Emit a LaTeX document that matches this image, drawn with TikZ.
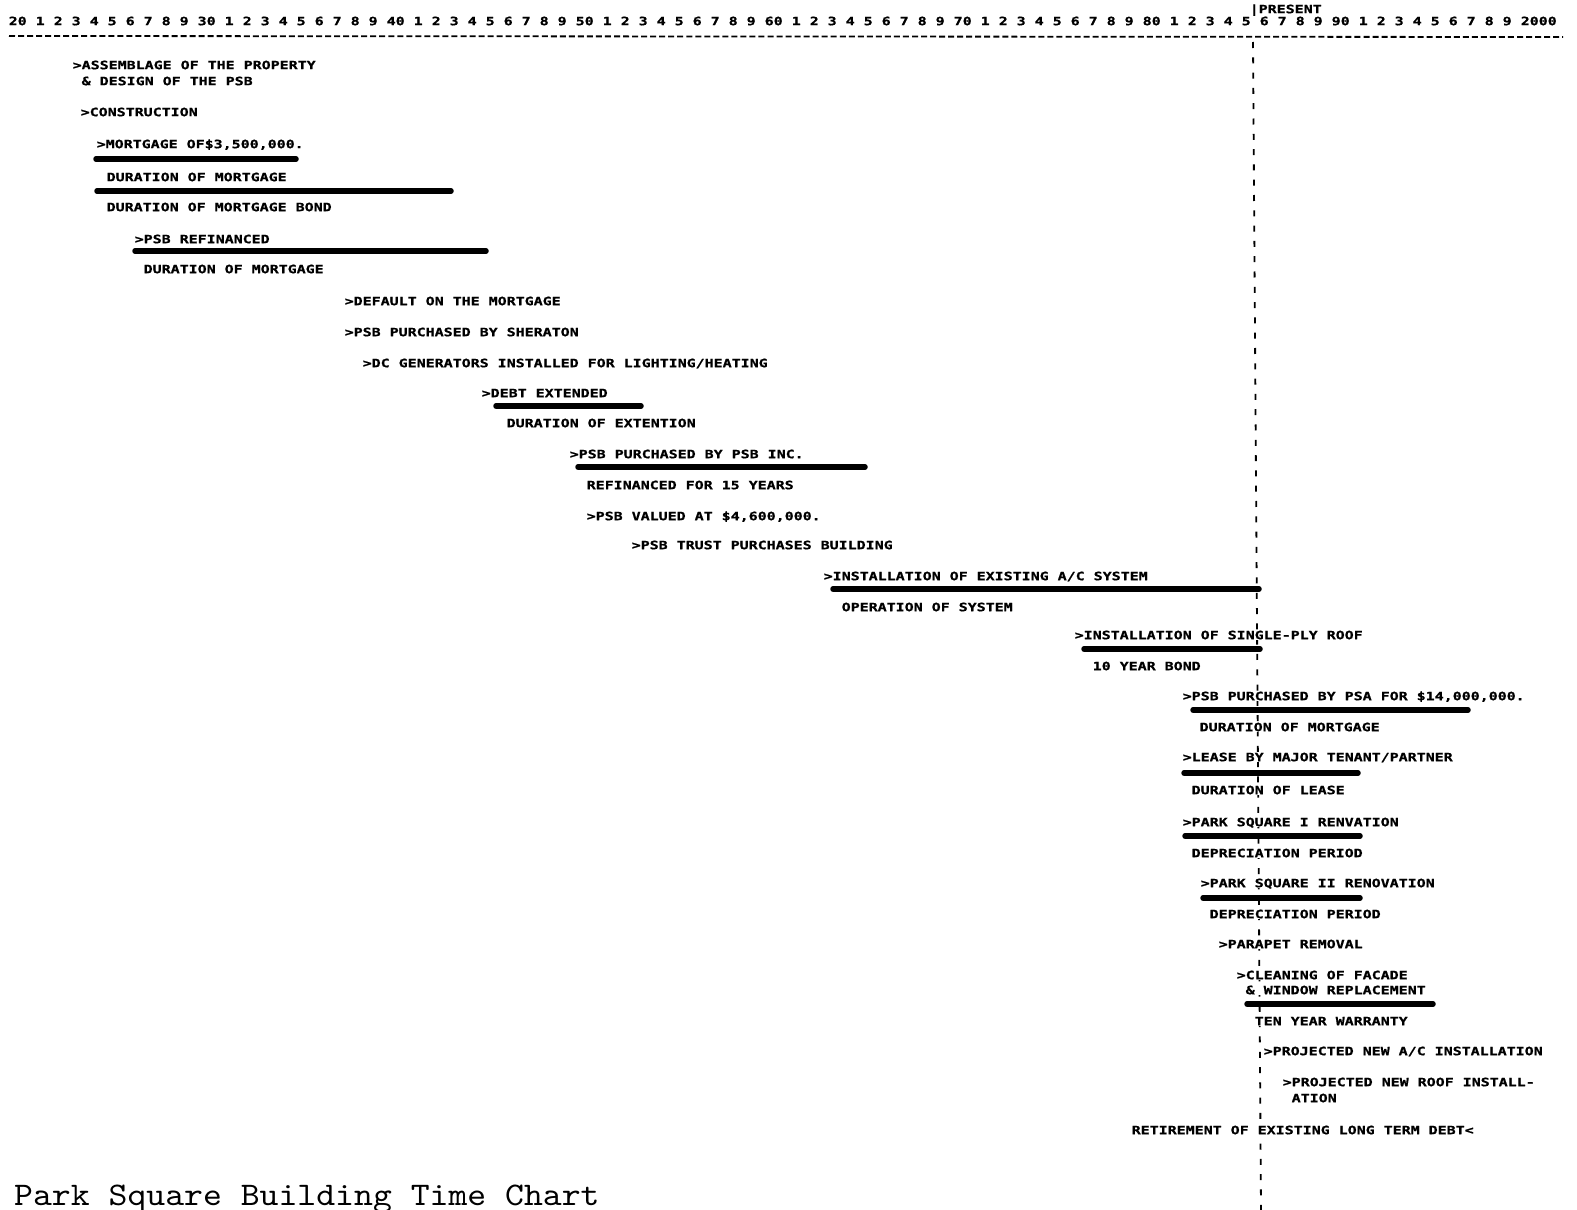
\documentclass[tikz,border=0pt]{standalone}
\usepackage{fontspec}
\usepackage{tikz}
\newfontfamily\typefont{DejaVu Sans Mono}[FakeStretch=1.30,FakeBold=0.8]
\newfontfamily\titlefont{lmmono10-regular.otf}[FakeStretch=1.09]
\newcommand{\chartfont}{\typefont\bfseries\fontsize{11.5}{12}\selectfont}
\tikzset{
  ev/.style={anchor=west,inner sep=0.5pt,fill=white,font=\chartfont,text height=8.4pt,text depth=0pt},
  bar/.style={line width=5.5pt,line cap=round},
  present/.style={line width=1.8pt,dash pattern=on 6pt off 9.3pt}
}

\begin{document}
\begin{tikzpicture}[x=1pt,y=-1pt]
\fill[white] (0,0) rectangle (1577,1210);
\useasboundingbox (0,0) rectangle (1577,1210);

\node (present) [ev] at (1249,9) {|PRESENT};
\node (ruler) [ev,fill=none] at (8,21) {20 1 2 3 4 5 6 7 8 9 30 1 2 3 4 5 6 7 8 9 40 1 2 3 4 5 6 7 8 9 50 1 2 3 4 5 6 7 8 9 60 1 2 3 4 5 6 7 8 9 70 1 2 3 4 5 6 7 8 9 80 1 2 3 4 5 6 7 8 9 90 1 2 3 4 5 6 7 8 9 2000};
\draw[line width=1.8pt,dash pattern=on 6pt off 3.03pt] (9,36) -- (1563,37);

\draw[present] (1253,42) -- (1261,1210);

\node (1) [ev] at (72,65) {>ASSEMBLAGE OF THE PROPERTY};
\node (1b) [ev] at (81,81) {\& DESIGN OF THE PSB};
\node (2) [ev] at (80,112) {>CONSTRUCTION};
\node (3) [ev] at (96,144) {>MORTGAGE OF\$3,500,000.};
\draw[bar] (96,159) -- (296,159);
\node (4) [ev] at (106,177) {DURATION OF MORTGAGE};
\draw[bar] (97,191) -- (451,191);
\node (5) [ev] at (106,207) {DURATION OF MORTGAGE BOND};
\node (6) [ev] at (134,239) {>PSB REFINANCED};
\draw[bar] (135,251) -- (486,251);
\node (7) [ev] at (143,269) {DURATION OF MORTGAGE};

\node (8) [ev] at (344,301) {>DEFAULT ON THE MORTGAGE};
\node (9) [ev] at (344,332) {>PSB PURCHASED BY SHERATON};
\node (10) [ev] at (362,363) {>DC GENERATORS INSTALLED FOR LIGHTING/HEATING};
\node (11) [ev] at (481,393) {>DEBT EXTENDED};
\draw[bar] (496,406) -- (641,406);
\node (12) [ev] at (506,423) {DURATION OF EXTENTION};
\node (13) [ev] at (569,454) {>PSB PURCHASED BY PSB INC.};
\draw[bar] (578,467) -- (865,467);
\node (14) [ev] at (586,485) {REFINANCED FOR 15 YEARS};
\node (15) [ev] at (586,516) {>PSB VALUED AT \$4,600,000.};
\node (16) [ev] at (631,545) {>PSB TRUST PURCHASES BUILDING};

\node (17) [ev] at (823,576) {>INSTALLATION OF EXISTING A/C SYSTEM};
\draw[bar] (833,589) -- (1259,589);
\node (18) [ev] at (841,607) {OPERATION OF SYSTEM};
\node (19) [ev] at (1074,635) {>INSTALLATION OF SINGLE-PLY ROOF};
\draw[bar] (1084,649) -- (1260,649);
\node (20) [ev] at (1092,666) {10 YEAR BOND};

\node (21) [ev] at (1182,696) {>PSB PURCHASED BY PSA FOR \$14,000,000.};
\draw[bar] (1193,710) -- (1468,710);
\node (22) [ev] at (1199,727) {DURATION OF MORTGAGE};
\node (23) [ev] at (1182,757) {>LEASE BY MAJOR TENANT/PARTNER};
\draw[bar] (1184,773) -- (1358,773);
\node (24) [ev] at (1191,790) {DURATION OF LEASE};
\node (25) [ev] at (1182,822) {>PARK SQUARE I RENVATION};
\draw[bar] (1185,836) -- (1360,836);
\node (26) [ev] at (1191,853) {DEPRECIATION PERIOD};
\node (27) [ev] at (1200,883) {>PARK SQUARE II RENOVATION};
\draw[bar] (1203,898) -- (1360,898);
\node (28) [ev] at (1209,914) {DEPRECIATION PERIOD};
\node (29) [ev] at (1218,944) {>PARAPET REMOVAL};
\node (30) [ev] at (1236,975) {>CLEANING OF FACADE};
\node (30b) [ev] at (1245,990) {\& WINDOW REPLACEMENT};
\draw[bar] (1247,1004) -- (1433,1004);
\node (31) [ev] at (1254,1021) {TEN YEAR WARRANTY};
\node (32) [ev] at (1263,1051) {>PROJECTED NEW A/C INSTALLATION};
\node (33) [ev] at (1282,1082) {>PROJECTED NEW ROOF INSTALL-};
\node (33b) [ev] at (1291,1098) {ATION};
\node (34) [ev] at (1131,1130) {RETIREMENT OF EXISTING LONG TERM DEBT<};

\node (title) [anchor=base west,inner sep=0pt,font=\titlefont\fontsize{33}{34}\selectfont] at (14,1205) {Park Square Building Time Chart};

\end{tikzpicture}
\end{document}
